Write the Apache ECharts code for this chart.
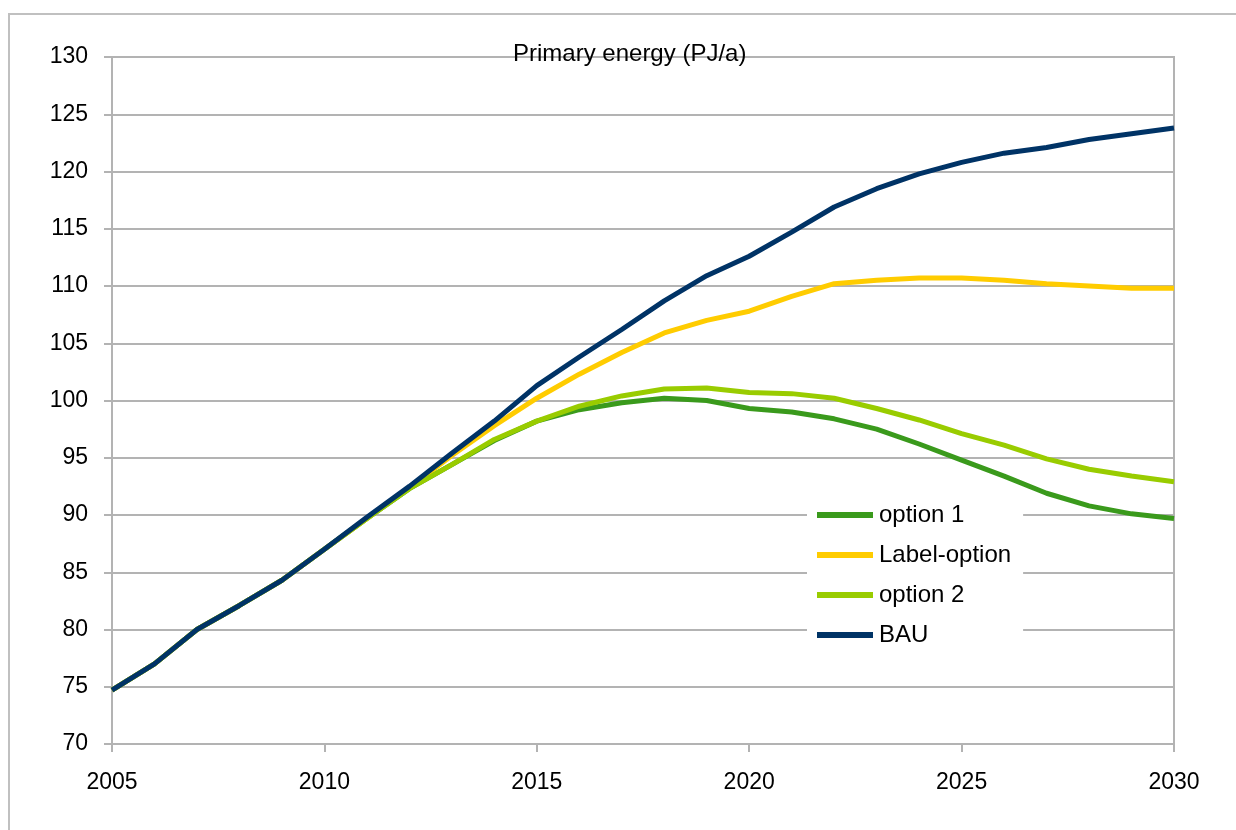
<!DOCTYPE html>
<html>
<head>
<meta charset="utf-8">
<script src="https://cdn.jsdelivr.net/npm/echarts@6/dist/echarts.min.js"></script>
<style>
  html, body { margin: 0; padding: 0; background: #fff; }
  #main { width: 1236px; height: 830px; }
</style>
</head>
<body>
<div id="main"></div>
<script>
// years on x axis
var years = [2005, 2006, 2007, 2008, 2009, 2010, 2011, 2012, 2013, 2014, 2015, 2016, 2017,
             2018, 2019, 2020, 2021, 2022, 2023, 2024, 2025, 2026, 2027, 2028, 2029, 2030];

// PJ/a values
var option1 = [74.7, 77.0, 80.0, 82.1, 84.3, 87.0, 89.7, 92.3, 94.4, 96.5, 98.2, 99.2, 99.8,
               100.2, 100.0, 99.3, 99.0, 98.4, 97.5, 96.2, 94.8, 93.4, 91.9, 90.8, 90.1, 89.7];
var labelOption = [74.7, 77.0, 80.0, 82.1, 84.3, 87.0, 89.7, 92.4, 95.2, 97.8, 100.2, 102.3, 104.2,
                   105.9, 107.0, 107.8, 109.1, 110.2, 110.5, 110.7, 110.7, 110.5, 110.2, 110.0, 109.8, 109.8];
var option2 = [74.7, 77.0, 80.0, 82.1, 84.3, 87.0, 89.7, 92.3, 94.4, 96.6, 98.2, 99.5, 100.4,
               101.0, 101.1, 100.7, 100.6, 100.2, 99.3, 98.3, 97.1, 96.1, 94.9, 94.0, 93.4, 92.9];
var bau = [74.7, 77.0, 80.0, 82.1, 84.3, 87.0, 89.8, 92.5, 95.4, 98.2, 101.3, 103.8, 106.2,
           108.7, 110.9, 112.6, 114.7, 116.9, 118.5, 119.8, 120.8, 121.6, 122.1, 122.8, 123.3, 123.8];

var names = ['option 1', 'Label-option', 'option 2', 'BAU'];
var colors = ['#3a9a1c', '#ffcc00', '#99cc00', '#003366'];
var values = [option1, labelOption, option2, bau];

function pairs(arr) {
  return years.map(function (y, i) { return [y, arr[i]]; });
}

var font = 'Liberation Sans, Arial, sans-serif';
var gray = '#b3b3b3';

var chart = echarts.init(document.getElementById('main'));

var series = names.map(function (n, i) {
  return {
    name: n,
    type: 'line',
    data: pairs(values[i]),
    showSymbol: false,
    symbol: 'none',
    lineStyle: { color: colors[i], width: 5 },
    itemStyle: { color: colors[i] },
    z: 2 + i
  };
});

chart.setOption({
  backgroundColor: '#fff',
  animation: false,
  textStyle: { fontFamily: font },
  graphic: [{
    type: 'rect',
    shape: { x: 9, y: 14, width: 1240, height: 830 },
    style: { fill: null, stroke: '#c0c0c0', lineWidth: 2 },
    silent: true,
    z: -10
  }],
  title: {
    text: 'Primary energy (PJ/a)',
    left: 513,
    top: 42,
    padding: 0,
    textStyle: {
      fontFamily: font,
      fontSize: 24,
      fontWeight: 'normal',
      color: '#000',
      backgroundColor: '#fff',
      padding: [0, 6, 0, 6]
    },
    z: 20
  },
  grid: {
    left: 112, right: 62, top: 57, bottom: 86,
    show: true, borderColor: gray, borderWidth: 2, backgroundColor: 'transparent'
  },
  legend: {
    data: names,
    orient: 'vertical',
    left: 807,
    top: 497,
    backgroundColor: '#fff',
    padding: [6, 12, 6, 10],
    itemWidth: 56,
    itemHeight: 6,
    itemGap: 16,
    icon: 'rect',
    textStyle: { fontFamily: font, fontSize: 24, color: '#000', lineHeight: 24, padding: [0, 0, 0, 1] },
    z: 20
  },
  xAxis: {
    type: 'value',
    min: 2005,
    max: 2030,
    interval: 5,
    axisLine: { show: true, lineStyle: { color: gray, width: 2 } },
    axisTick: { show: true, length: 8, lineStyle: { color: gray, width: 2 } },
    axisLabel: {
      fontFamily: font, fontSize: 23, color: '#000', margin: 27,
      formatter: function (v) { return String(v); }
    },
    splitLine: { show: false }
  },
  yAxis: {
    type: 'value',
    min: 70,
    max: 130,
    interval: 5,
    axisLine: { show: true, lineStyle: { color: gray, width: 2 } },
    axisTick: { show: true, length: 8, lineStyle: { color: gray, width: 2 } },
    axisLabel: { fontFamily: font, fontSize: 23, color: '#000', margin: 24 },
    splitLine: { show: true, lineStyle: { color: gray, width: 2 } }
  },
  series: series
});
</script>
</body>
</html>
